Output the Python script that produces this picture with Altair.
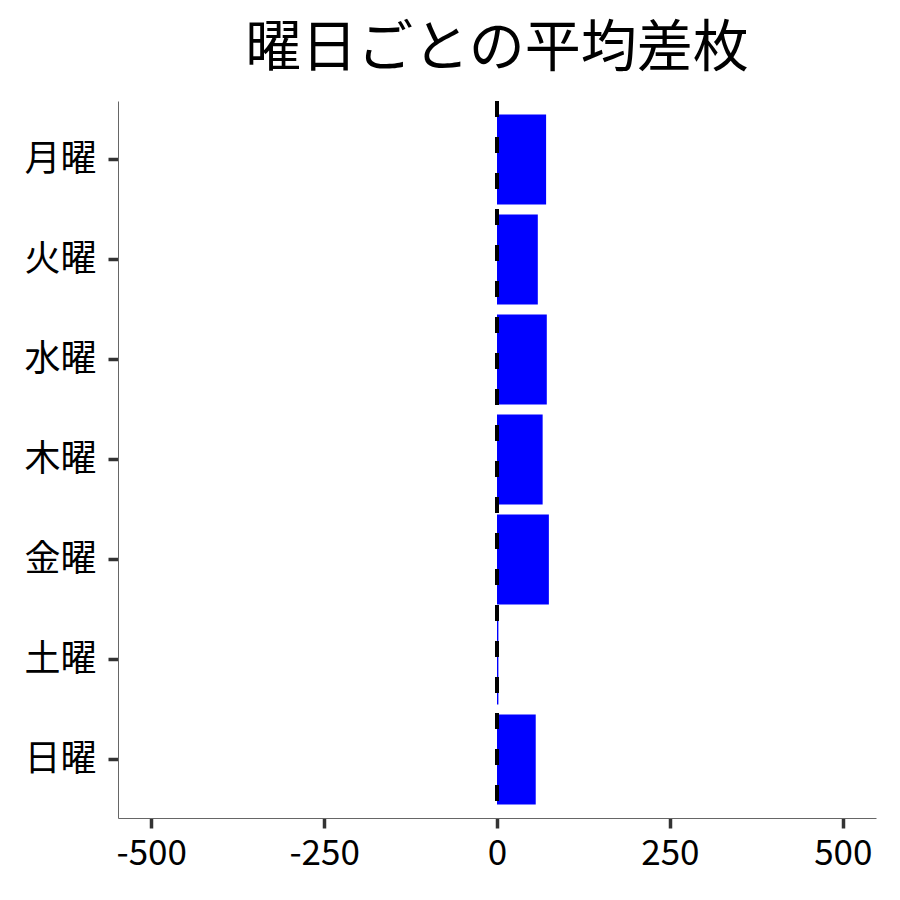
import altair as alt
import pandas as pd

days = ["月曜", "火曜", "水曜", "木曜", "金曜", "土曜", "日曜"]
avg_diff = [71, 59, 72, 66, 75, 2, 56]
zero_line = [0]
x_ticks = [-500, -250, 0, 250, 500]

df = pd.DataFrame({"曜日": days, "平均差枚": avg_diff})
zdf = pd.DataFrame({"x": zero_line})

FONT = "Noto Sans CJK JP"

bars = alt.Chart(df).mark_bar(color="#0000ff").encode(
    x=alt.X("平均差枚:Q",
            scale=alt.Scale(domain=[-548, 548], nice=False, zero=False),
            axis=alt.Axis(values=x_ticks, title=None, grid=False,
                          labelExpr="toString(datum.value)",
                          labelFontSize=35, labelFont=FONT, labelColor="#000",
                          tickColor="#333", tickWidth=3.5, tickSize=10,
                          domainColor="#666", domainWidth=1, labelPadding=8)),
    y=alt.Y("曜日:N", sort=days,
            scale=alt.Scale(paddingInner=0.1, paddingOuter=0.135),
            axis=alt.Axis(title=None, grid=False,
                          labelFontSize=36, labelFont=FONT, labelColor="#000",
                          tickColor="#333", tickWidth=3.5, tickSize=10,
                          domainColor="#666", domainWidth=1, labelPadding=12)),
)

rule = alt.Chart(zdf).mark_rule(color="#000", strokeWidth=4, strokeDash=[16, 20]).encode(
    x="x:Q"
)

chart = (bars + rule).properties(
    width=758, height=717,
    title=alt.TitleParams("曜日ごとの平均差枚", fontSize=56, font=FONT,
                          fontWeight="normal", color="#000", offset=21),
    autosize="none",
    padding={"left": 110, "top": 93, "right": 16, "bottom": 70},
).configure(background="white", view=alt.ViewConfig(strokeWidth=0))

chart.save("out.html", embed_options={"renderer": "svg", "actions": False})
